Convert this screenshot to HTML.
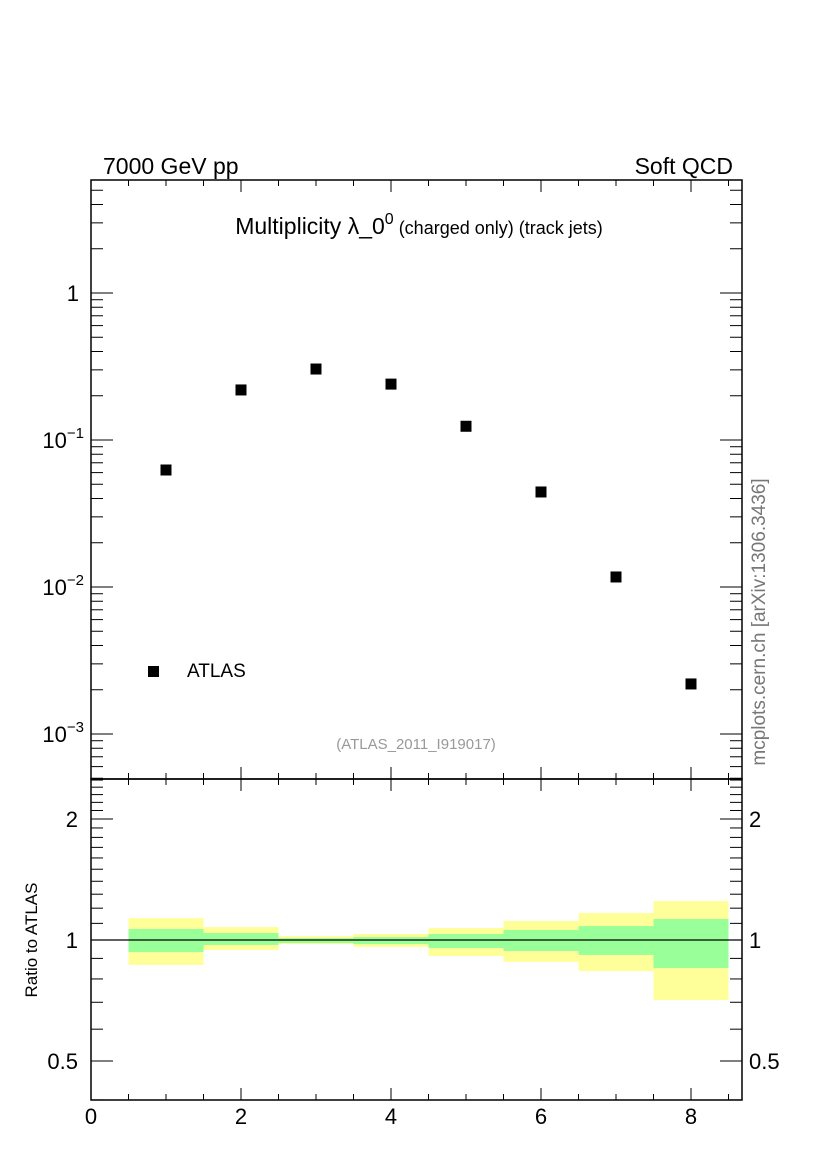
<!DOCTYPE html>
<html><head><meta charset="utf-8"><style>
body{margin:0;background:#fff}
svg text{font-family:"Liberation Sans",sans-serif}
</style></head><body>
<svg id="c" width="826" height="1169" xmlns="http://www.w3.org/2000/svg">
<g id="bands"></g>
<g id="axes" stroke="#000" stroke-width="1"></g>
<g id="pts"></g>
<rect x="91" y="180" width="651" height="599" fill="none" stroke="#000" stroke-width="1.5"/>
<rect x="91" y="779" width="651" height="321" fill="none" stroke="#000" stroke-width="1.5"/>
<text x="103" y="174" font-size="23">7000 GeV pp</text>
<text x="733" y="174" font-size="23" text-anchor="end">Soft QCD</text>
<text x="419" y="234" font-size="23" text-anchor="middle">Multiplicity λ_0<tspan dy="-10" font-size="16">0</tspan><tspan dy="10" font-size="18"> (charged only) (track jets)</tspan></text>
<text x="416" y="749" font-size="15" fill="#999" text-anchor="middle">(ATLAS_2011_I919017)</text>
<text transform="translate(765,622) rotate(-90)" font-size="19" fill="#777" text-anchor="middle">mcplots.cern.ch [arXiv:1306.3436]</text>
<text transform="translate(37,940) rotate(-90)" font-size="17" text-anchor="middle">Ratio to ATLAS</text>
<rect x="148" y="666" width="11" height="11" fill="#000"/>
<text x="187" y="677" font-size="19">ATLAS</text>
</svg>
<script>
const xCats=[1,2,3,4,5,6,7,8];
const yVals=[0.0625,0.219,0.304,0.240,0.124,0.0443,0.0117,0.00219];
const yellowUp=[1.134,1.077,1.023,1.035,1.071,1.115,1.167,1.250];
const yellowDn=[0.867,0.944,0.977,0.961,0.912,0.882,0.837,0.709];
const greenUp=[1.065,1.041,1.011,1.017,1.035,1.059,1.083,1.128];
const greenDn=[0.933,0.972,0.983,0.977,0.955,0.939,0.918,0.852];
const xTicks=[0,2,4,6,8];
const NS="http://www.w3.org/2000/svg";
const X=v=>91+75*v;
const Y=v=>293-147*Math.log10(v);
const R=v=>940-121*Math.log2(v);
function mk(t,a,p){const e=document.createElementNS(NS,t);for(const k in a)e.setAttribute(k,a[k]);p.appendChild(e);return e;}
const bands=document.getElementById('bands'),axes=document.getElementById('axes'),pts=document.getElementById('pts'),svg=document.getElementById('c');
xCats.forEach((c,i)=>{
 const y=mk('rect',{x:X(c-0.5),y:R(yellowUp[i]),width:75,height:R(yellowDn[i])-R(yellowUp[i]),fill:'#ffff99'},bands);
 
 
 const g=mk('rect',{x:X(c-0.5),y:R(greenUp[i]),width:75,height:R(greenDn[i])-R(greenUp[i]),fill:'#99ff99'},bands);
 
 
 const p=mk('rect',{x:X(c)-5.5,y:Y(yVals[i])-5.5,width:11,height:11,fill:'#000'},pts);
 
 
});
const rl=mk('line',{x1:91,x2:742,y1:R(1),y2:R(1),stroke:'#000','stroke-width':1.3},pts);


for(let v=0;v<=8.6;v+=0.5){
 const maj=Math.abs(v%2)<1e-6, L=maj?12:6;
 mk('line',{x1:X(v),x2:X(v),y1:180,y2:180+L},axes);
 mk('line',{x1:X(v),x2:X(v),y1:779,y2:779-L},axes);
 mk('line',{x1:X(v),x2:X(v),y1:779,y2:779+L},axes);
 mk('line',{x1:X(v),x2:X(v),y1:1100,y2:1100-L},axes);
}
xTicks.forEach(v=>{const t=mk('text',{x:X(v),y:1124,'font-size':22,'text-anchor':'middle'},svg);t.textContent=v;
 
 });
for(let d=-4;d<=0;d++)for(let m=1;m<=9;m++){
 const v=m*Math.pow(10,d),y=Y(v); if(y<180||y>779)continue;
 const L=m==1?22:12;
 mk('line',{x1:91,x2:91+L,y1:y,y2:y},axes);
 mk('line',{x1:742,x2:742-L,y1:y,y2:y},axes);
}
[0,-1,-2,-3].forEach(d=>{
 const t=mk('text',{x:d==0?79:84,y:Y(Math.pow(10,d))+8,'font-size':22,'text-anchor':'end'},svg);
 if(d==0){t.textContent='1';}
 else{const a=mk('tspan',{},t);a.textContent='10';const b=mk('tspan',{dy:-10,'font-size':15},t);b.textContent='−'+(-d);}
 
 
});
for(let v=0.4;v<=2.55;v+=0.1){
 const y=R(v); if(y<779||y>1100)continue;
 const maj=[0.5,1,2].some(m=>Math.abs(m-v)<1e-6),L=maj?22:12;
 mk('line',{x1:91,x2:91+L,y1:y,y2:y},axes);
 mk('line',{x1:742,x2:742-L,y1:y,y2:y},axes);
}
[[2,'2'],[1,'1'],[0.5,'0.5']].forEach(([v,s])=>{
 const a=mk('text',{x:78,y:R(v)+8,'font-size':22,'text-anchor':'end'},svg);a.textContent=s;
 
 
 const b=mk('text',{x:749,y:R(v)+8,'font-size':22},svg);b.textContent=s;
 
 
});
</script>
</body></html>
